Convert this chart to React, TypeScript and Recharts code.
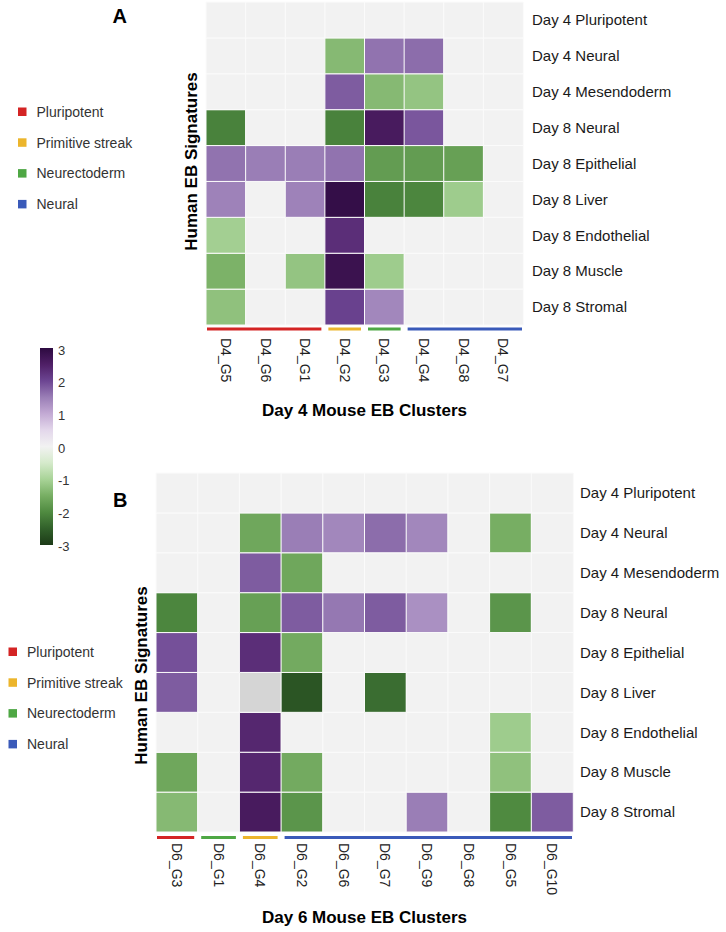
import React from 'react';
import { BarChart, Bar, XAxis, YAxis, Cell, Label } from 'recharts';

// rows of both heatmaps, top to bottom
const signatures = [
  'Day 4 Pluripotent',
  'Day 4 Neural',
  'Day 4 Mesendoderm',
  'Day 8 Neural',
  'Day 8 Epithelial',
  'Day 8 Liver',
  'Day 8 Endothelial',
  'Day 8 Muscle',
  'Day 8 Stromal',
];

const day4Clusters = ['D4_G5', 'D4_G6', 'D4_G1', 'D4_G2', 'D4_G3', 'D4_G4', 'D4_G8', 'D4_G7'];
const day4Groups = ['Pluripotent', 'Pluripotent', 'Pluripotent', 'Primitive streak', 'Neurectoderm', 'Neural', 'Neural', 'Neural'];
// null = not significant (blank tile)
const day4Scores: (number | null)[][] = [
  [null, null, null, null, null, null, null, null],
  [null, null, null, -1.35, 1.6, 1.65, null, null],
  [null, null, null, 1.8, -1.35, -1.2, null, null],
  [-2.1, null, null, -2.1, 2.6, 1.85, null, null],
  [1.6, 1.5, 1.5, 1.6, -1.75, -1.75, -1.7, null],
  [1.45, null, 1.45, 2.9, -2.1, -2.05, -1.1, null],
  [-1.05, null, null, 2.3, null, null, null, null],
  [-1.45, null, -1.2, 2.8, -1.1, null, null, null],
  [-1.25, null, null, 2.05, 1.4, null, null, null],
];

const day6Clusters = ['D6_G3', 'D6_G1', 'D6_G4', 'D6_G2', 'D6_G6', 'D6_G7', 'D6_G9', 'D6_G8', 'D6_G5', 'D6_G10'];
const day6Groups = ['Pluripotent', 'Neurectoderm', 'Primitive streak', 'Neural', 'Neural', 'Neural', 'Neural', 'Neural', 'Neural', 'Neural'];
// NaN = missing value (grey tile)
const day6Scores: (number | null)[][] = [
  [null, null, null, null, null, null, null, null, null, null],
  [null, null, -1.6, 1.5, 1.4, 1.65, 1.4, null, -1.5, null],
  [null, null, 1.8, -1.6, null, null, null, null, null, null],
  [-2.05, null, -1.7, 1.8, 1.55, 1.8, 1.3, null, -1.85, null],
  [1.9, null, 2.3, -1.55, null, null, null, null, null, null],
  [1.8, null, NaN, -2.65, null, -2.35, null, null, null, null],
  [null, null, 2.4, null, null, null, null, null, -1.1, null],
  [-1.6, null, 2.4, -1.55, null, null, null, null, -1.25, null],
  [-1.35, null, 2.6, -1.85, null, null, 1.5, null, -2.0, 1.8],
];

const legendGroups = ['Pluripotent', 'Primitive streak', 'Neurectoderm', 'Neural'];
const scaleTicks = [3, 2, 1, 0, -1, -2, -3];

const groupColors: Record<string, string> = {
  Pluripotent: '#d42424',
  'Primitive streak': '#ecb52c',
  Neurectoderm: '#4ea744',
  Neural: '#3a5ab9',
};

const EMPTY = '#f2f2f2';
const MISSING = '#d5d5d5';
const FONT = '"Liberation Sans", Arial, Helvetica, sans-serif';

// PRGn-like diverging scale
const colorStops: [number, string][] = [
  [-3, '#1c3a17'],
  [-2.5, '#31602a'],
  [-2, '#4f8a40'],
  [-1.5, '#77ae63'],
  [-1, '#a8d397'],
  [-0.5, '#d5eacb'],
  [0, '#f2f2f2'],
  [0.5, '#e3d7eb'],
  [1, '#c3aad4'],
  [1.5, '#9a7eb6'],
  [2, '#6c4592'],
  [2.5, '#4f1f66'],
  [3, '#2d0a40'],
];

const hex = (c: string) => [1, 3, 5].map((i) => parseInt(c.slice(i, i + 2), 16));

function scoreColor(v: number | null) {
  if (v === null) return EMPTY;
  if (Number.isNaN(v)) return MISSING;
  const t = Math.max(-3, Math.min(3, v));
  for (let i = 0; i < colorStops.length - 1; i++) {
    const [a, ca] = colorStops[i];
    const [b, cb] = colorStops[i + 1];
    if (t >= a && t <= b) {
      const f = (t - a) / (b - a);
      const x = hex(ca);
      const y = hex(cb);
      const m = x.map((n, k) => Math.round(n + (y[k] - n) * f));
      return `rgb(${m[0]},${m[1]},${m[2]})`;
    }
  }
  return EMPTY;
}

interface HeatmapProps {
  clusters: string[];
  groups: string[];
  scores: (number | null)[][];
  title: string;
  top: number;
  height: number;
  margin: { top: number; right: number; bottom: number; left: number };
  rowLabelWidth: number;
  rowLabelGap: number;
  lineGap: number;
  labelGap: number;
}

const Heatmap = ({
  clusters, groups, scores, title, top, height, margin, rowLabelWidth, rowLabelGap, lineGap, labelGap,
}: HeatmapProps) => {
  const width = 726;
  const n = signatures.length;
  const band = (width - margin.left - margin.right - rowLabelWidth) / clusters.length;

  const data = clusters.map((c) => {
    const d: Record<string, string | number> = { cluster: c };
    signatures.forEach((_, ri) => {
      d[`r${ri}`] = 1;
    });
    return d;
  });

  // the first tick of each group draws one line under the whole group
  const renderTick = (props: any) => {
    const { x, y, payload, index } = props;
    const g = groups[index];
    const isStart = index === 0 || groups[index - 1] !== g;
    let last = index;
    while (last + 1 < groups.length && groups[last + 1] === g) last++;
    const x1 = x - band / 2 + (index === 0 ? 1 : 3.5);
    const x2 = x + band * (last - index) + band / 2 - (last === groups.length - 1 ? 1 : 3.5);
    return (
      <g>
        {isStart && (
          <line x1={x1} x2={x2} y1={y + lineGap} y2={y + lineGap} stroke={groupColors[g]} strokeWidth={3} />
        )}
        <text
          transform={`translate(${x},${y + labelGap}) rotate(90)`}
          textAnchor="start"
          dy="0.35em"
          fontSize={14}
          fill="#222"
        >
          {payload.value}
        </text>
      </g>
    );
  };

  return (
    <div style={{ position: 'absolute', left: 0, top }}>
      <BarChart
        width={width}
        height={height}
        data={data}
        margin={margin}
        barCategoryGap={0}
        barGap={0}
        style={{ fontFamily: FONT }}
      >
        <XAxis
          dataKey="cluster"
          type="category"
          interval={0}
          height={70}
          axisLine={false}
          tickLine={false}
          tickSize={0}
          tickMargin={0}
          tick={renderTick}
        >
          <Label value={title} position="bottom" offset={9} fontSize={17} fontWeight="bold" fill="#000" />
        </XAxis>
        <YAxis
          orientation="right"
          type="number"
          domain={[0, n]}
          ticks={signatures.map((_, i) => i + 0.5)}
          tickFormatter={(v: number) => signatures[n - 1 - Math.floor(v)]}
          interval={0}
          width={rowLabelWidth}
          axisLine={false}
          tickLine={false}
          tickSize={0}
          tickMargin={rowLabelGap}
          tick={{ fontSize: 15, fill: '#1a1a1a' }}
        />
        {signatures.map((_, k) => {
          const ri = n - 1 - k; // stack from the bottom row up
          return (
            <Bar key={ri} dataKey={`r${ri}`} stackId="tiles" isAnimationActive={false}>
              {clusters.map((c, ci) => (
                <Cell key={c} fill={scoreColor(scores[ri][ci])} stroke="#fbfbfb" strokeWidth={1} />
              ))}
            </Bar>
          );
        })}
      </BarChart>
    </div>
  );
};

const GroupLegend = ({ x, y }: { x: number; y: number }) => (
  <g>
    {legendGroups.map((g, i) => (
      <g key={g}>
        <rect x={x} y={y + i * 30.8 - 4.2} width={8.5} height={8.5} fill={groupColors[g]} />
        <text x={x + 18.5} y={y + i * 30.8} dominantBaseline="central" fontSize={14} fill="#333">
          {g}
        </text>
      </g>
    ))}
  </g>
);

const ColorBar = ({ x, y, h }: { x: number; y: number; h: number }) => (
  <g>
    <defs>
      <linearGradient id="scoreGrad" x1="0" y1="0" x2="0" y2="1">
        {colorStops
          .slice()
          .reverse()
          .map(([v, c]) => (
            <stop key={v} offset={`${((3 - v) / 6) * 100}%`} stopColor={c} />
          ))}
      </linearGradient>
    </defs>
    <rect x={x} y={y} width={13} height={h} fill="url(#scoreGrad)" />
    {scaleTicks.map((t) => (
      <text key={t} x={x + 18} y={y + 2 + ((3 - t) / 6) * (h - 1)} dominantBaseline="central" fontSize={13} fill="#333">
        {t}
      </text>
    ))}
  </g>
);

export default function App() {
  return (
    <div style={{ position: 'absolute', left: 0, top: 0, width: 726, height: 932, background: '#fff', fontFamily: FONT }}>
      <Heatmap
        clusters={day4Clusters}
        groups={day4Groups}
        scores={day4Scores}
        title="Day 4 Mouse EB Clusters"
        top={0}
        height={440}
        margin={{ top: 2, right: 23, bottom: 45, left: 206 }}
        rowLabelWidth={180}
        rowLabelGap={9}
        lineGap={4}
        labelGap={13}
      />
      <Heatmap
        clusters={day6Clusters}
        groups={day6Groups}
        scores={day6Scores}
        title="Day 6 Mouse EB Clusters"
        top={440}
        height={492}
        margin={{ top: 33, right: 3, bottom: 30, left: 156 }}
        rowLabelWidth={150}
        rowLabelGap={7}
        lineGap={5.5}
        labelGap={11}
      />
      <svg
        width={726}
        height={932}
        style={{ position: 'absolute', left: 0, top: 0, pointerEvents: 'none', fontFamily: FONT }}
      >
        <text x={112.5} y={22.7} fontSize={20} fontWeight="bold" fill="#000">A</text>
        <text x={113} y={507} fontSize={20} fontWeight="bold" fill="#000">B</text>
        <text transform="translate(197,161.5) rotate(-90)" textAnchor="middle" fontSize={17} fontWeight="bold" fill="#000">
          Human EB Signatures
        </text>
        <text transform="translate(147,675.5) rotate(-90)" textAnchor="middle" fontSize={17} fontWeight="bold" fill="#000">
          Human EB Signatures
        </text>
        <GroupLegend x={18} y={111.7} />
        <GroupLegend x={8.5} y={651.7} />
        <ColorBar x={40} y={348} h={197} />
      </svg>
    </div>
  );
}
